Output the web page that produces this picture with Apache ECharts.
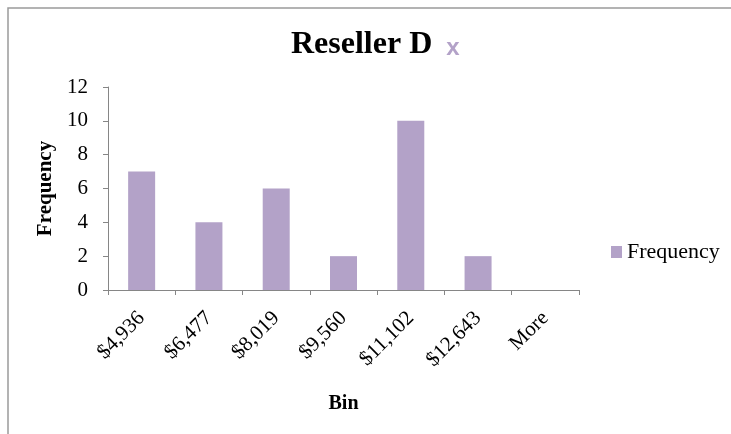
<!DOCTYPE html>
<html>
<head>
<meta charset="utf-8">
<script src="https://cdn.jsdelivr.net/npm/echarts@6/dist/echarts.min.js"></script>
<style>
html,body{margin:0;padding:0;background:#fff;}
#chart{width:731px;height:434px;}
</style>
</head>
<body>
<div id="chart"></div>
<script>
// Histogram bins and counts
const bins = ['$4,936', '$6,477', '$8,019', '$9,560', '$11,102', '$12,643', 'More'];
const frequency = [7, 4, 6, 2, 10, 2, 0];
const yTicks = [0, 2, 4, 6, 8, 10, 12];

const serif = '"Liberation Serif", "Times New Roman", serif';
const chart = echarts.init(document.getElementById('chart'));

chart.setOption({
  backgroundColor: '#fff',
  animation: false,
  graphic: [{
    type: 'rect',
    shape: { x: 8, y: 8, width: 760, height: 460 },
    style: { fill: 'none', stroke: '#9a9a9a', lineWidth: 1.5 },
    silent: true
  }],
  title: {
    text: '{t|Reseller D}{x|x}',
    left: 286,
    top: 24,
    textStyle: {
      rich: {
        t: { fontFamily: serif, fontSize: 32, fontWeight: 'bold', color: '#000' },
        x: { fontFamily: 'Liberation Sans, Arial, sans-serif', fontSize: 24, fontWeight: 'bold', color: '#b3a2c8', padding: [6, 0, 0, 14] }
      }
    }
  },
  legend: {
    data: ['Frequency'],
    orient: 'vertical',
    left: 606,
    top: 236,
    itemWidth: 11,
    itemHeight: 12,
    itemGap: 4,
    icon: 'rect',
    textStyle: { fontFamily: serif, fontSize: 22, color: '#000', padding: [2, 0, 0, 0] }
  },
  grid: { left: 108, right: 152, top: 87, bottom: 144, containLabel: false },
  xAxis: {
    type: 'category',
    data: bins,
    name: 'Bin',
    nameLocation: 'middle',
    nameGap: 104,
    nameTextStyle: { fontFamily: serif, fontSize: 20, fontWeight: 'bold', color: '#000' },
    axisLine: { lineStyle: { color: '#868686', width: 1 } },
    axisTick: { show: true, alignWithLabel: false, length: 5, lineStyle: { color: '#868686' }, inside: false },
    axisLabel: {
      rotate: 45,
      fontFamily: serif,
      fontSize: 21,
      color: '#000',
      margin: 25,
      interval: 0
    }
  },
  yAxis: {
    type: 'value',
    min: 0,
    max: 12,
    interval: 2,
    name: 'Frequency',
    nameLocation: 'middle',
    nameRotate: 90,
    nameGap: 52,
    nameTextStyle: { fontFamily: serif, fontSize: 21, fontWeight: 'bold', color: '#000' },
    splitLine: { show: false },
    axisLine: { show: true, lineStyle: { color: '#868686', width: 1 } },
    axisTick: { show: true, length: 5, lineStyle: { color: '#868686' } },
    axisLabel: {
      fontFamily: serif,
      fontSize: 21,
      color: '#000',
      margin: 20,
      formatter: v => (yTicks.includes(v) ? String(v) : '')
    }
  },
  series: [{
    name: 'Frequency',
    type: 'bar',
    data: frequency,
    barWidth: 27,
    itemStyle: { color: '#b3a2c8' }
  }]
});
</script>
</body>
</html>
